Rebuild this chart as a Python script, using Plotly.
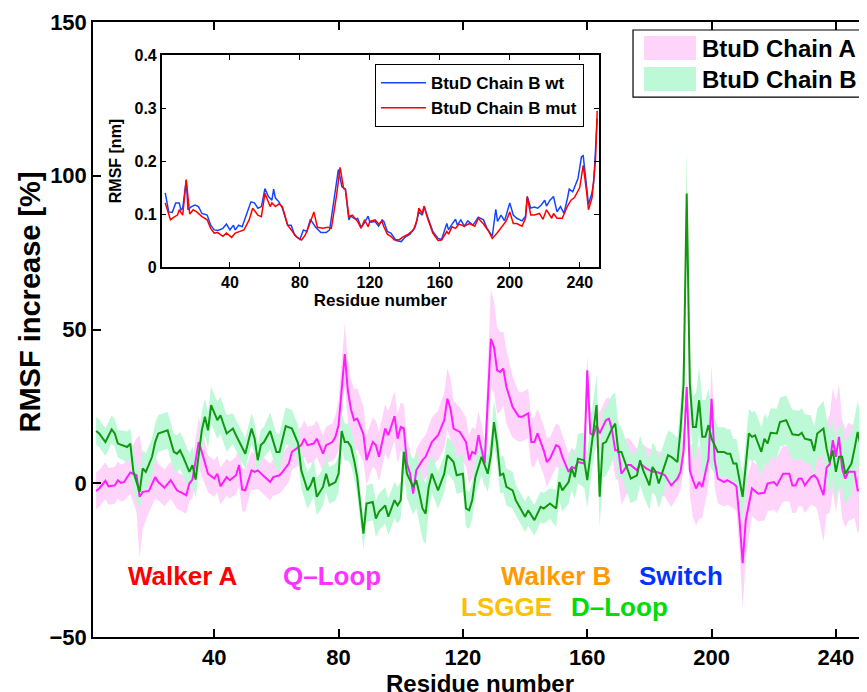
import plotly.graph_objects as go

# ---------------- main chart data (RMSF increase, %) ----------------
a_res = [2,3,5,6,8,9,10,11,13,15,
         16,17,19,21,22,24,26,28,31,32,
         33,35,36,38,40,41,42,44,45,47,
         48,49,50,52,53,54,56,58,59,61,
         62,64,65,67,68,69,70,72,73,75,
         76,78,79,80,82,83,84,85,86,88,
         89,91,92,93,95,96,98,99,100,101,
         102,103,104,105,107,108,110,112,114,115,
         116,117,119,121,122,123,124,125,126,127,
         129,130,131,132,133,134,136,137,138,139,
         141,142,143,144,146,147,148,150,151,152,
         154,155,156,157,159,160,161,162,163,164,
         166,167,168,169,170,171,173,174,176,177,
         179,181,182,184,185,187,189,190,191,192,
         193,194,195,196,197,199,200,201,202,204,
         205,207,208,209,210,211,213,215,217,218,
         220,221,223,225,226,227,228,229,230,232,
         233,234,236,237,238,239,240,241,242,243,
         244,246,247,248,249]
a_val = [-2.5,-1.7,0.8,-1,-0.7,1,0.1,0.4,3.5,2.6,
         -4.4,-2.8,-2.5,2,0.4,-1.5,1,-2.3,-3.9,-0.1,
         1.2,13.4,10.2,3.1,1.5,3.1,-1,2,1,2.6,
         5.9,-2.1,-2.3,4.2,3.7,4.2,2.3,0.4,2,2.6,
         3.7,6.4,10.2,11.8,12.4,14.5,12.4,12.9,14.5,9.6,
         12.4,13.4,15.1,18.9,42,30,24,20.5,21,16,
         7.5,13.4,12.4,8.6,17.8,15.6,21.8,14.5,18.3,17.8,
         6.4,3.1,-3.4,4.2,7.5,8.6,13.4,15.6,20.5,27.5,
         24.3,17.8,16.7,13.4,7.5,10.2,9.6,15.6,10.7,6.4,
         47,44.3,36.7,36.2,37.3,31.3,24.8,23.2,21.6,21.6,
         22.7,13.4,13.4,16.2,10.7,6.9,8,12.4,11.8,8.6,
         3.7,5.3,4.8,6.9,6.4,36.7,16.2,15.6,18.9,16.2,
         20.5,21,17.2,10.7,10.7,3.1,5.9,5.9,4.2,6.4,
         4.8,3.7,3.7,3.1,2.6,-0.7,1.5,3.7,10.7,31.3,
         4.2,1,-1.7,0.4,-1.2,8,27.5,7.5,1.5,0.4,
         1,-0.1,-1,-12,-26,-12,-1.7,-3.4,-3.1,-0.1,
         0.4,-0.7,3.1,3.1,-0.7,-0.7,1.5,1.5,-0.7,2,
         2.6,1.5,-3.9,5.1,6.2,14,8.6,15.1,4.8,1.5,
         3.7,3.7,-2.3,-2.3,-6.6]
a_err = [6,6,6,6,6,6,6,6,7,12,
         20,12,7,7,6,6,6,6,6,6,
         6,8,8,6,6,6,6,6,6,6,
         7,7,7,6,6,6,6,6,6,6,
         6,6,6,6,6,6,6,6,6,6,
         6,6,7,8,10,10,10,10,10,9,
         8,8,8,8,8,8,8,8,8,8,
         8,8,7,7,7,7,8,8,9,10,
         10,9,8,8,8,8,8,8,8,8,
         16,15,14,13,12,12,10,9,8,8,
         8,8,8,8,8,8,7,7,7,7,
         6,6,6,6,6,5,7,7,7,7,
         7,7,8,9,10,10,9,8,7,7,
         7,7,7,7,7,7,6,6,6,6,
         8,12,12,12,10,9,11,9,8,8,
         8,8,8,10,15,12,9,9,9,9,
         9,9,9,9,9,9,9,9,9,9,
         10,10,15,15,16,17,18,17,16,16,
         16,15,14,12,10]

b_res = [2,3,5,7,8,9,12,13,14,16,
         17,18,20,21,22,25,27,28,29,30,
         32,33,34,35,36,37,38,39,41,42,
         44,46,47,50,52,53,54,55,56,58,
         60,61,62,63,65,67,68,70,71,72,
         73,75,76,77,79,80,81,82,83,84,
         85,86,88,89,91,92,93,95,96,98,
         99,100,101,102,104,105,106,107,108,109,
         110,112,114,115,117,118,120,121,122,123,
         124,126,128,129,130,131,132,133,134,136,
         137,138,140,141,143,145,146,148,150,151,
         152,154,155,156,157,159,160,161,163,164,
         165,166,168,169,170,171,173,174,176,177,
         178,180,181,182,183,184,186,187,189,190,
         191,192,193,194,195,196,197,198,199,200,
         202,204,205,206,207,208,210,212,213,214,
         216,217,218,219,221,222,224,226,228,229,
         230,232,233,234,236,237,238,239,240,241,
         242,243,245,246,247,248,249]
b_val = [17,16.2,13.4,17.5,16.2,12.9,11.8,12.9,3.7,-2.8,
         4.8,3.7,8.6,13.4,16.2,17.2,10.2,9.6,10.7,8.6,
         3.7,5.9,1.2,9.6,17.2,21.6,17.2,25.4,20.5,22.1,
         16.2,17.8,15.6,9.6,17.8,14.5,7.5,12.4,13.4,17,
         10.2,10.2,14,18.6,17.8,12.9,4.2,-2.3,-0.7,2,
         -4.4,-1.2,3.1,-0.7,0.4,3.1,17,13.4,13.4,11.8,
         7.5,2,-16.4,-6.6,-6.1,-11.5,-9.3,-7.2,-10.9,-5.5,
         -7.2,-5.5,10.2,3.1,-1.2,1,-3.4,-8.2,-9.9,-1.2,
         3.1,-2.3,3.1,9.1,6.9,2.6,3.1,-8.2,-8.8,-5.5,
         2,8.6,3.1,9.1,19.9,12.9,2.6,3.1,-1.2,-2.3,
         -5.5,-7.2,-10.9,-8.8,-12,-7.7,-8.2,-6.6,-8.2,0.4,
         -2.3,0.4,4.8,2,8,7.5,1,9.1,25.4,-4.4,
         12.9,13.4,17.8,19.4,10.2,10.2,4.2,1.5,2.6,7.5,
         4.2,-0.7,5.3,3.7,-0.1,3.1,9.1,8.6,6.9,17.2,
         32.4,94.2,32.4,18.3,18.3,27,15.1,15.1,18.9,14.5,
         10.2,10.2,9.6,9.6,6.4,6.4,-4.4,16.2,15.1,15.6,
         10.2,14.5,12.9,16.4,16.2,19.9,20.5,15.9,15.6,16.4,
         14.5,14,10.5,16.2,17.8,11.3,6.9,10.7,3.7,8.6,
         8.6,3.1,6.4,11.3,16.7,11.8,-8.8]
b_err = [4.5,4.5,4.5,4.5,4.5,4.5,5,5,6,6,
         6,6,6,6,6,6,6,6,6,6,
         6,6,6,6,6,6,6,6,6,6,
         6,5,5,5,5,5,5,5,5,6,
         6,6,6,6,6,6,6,6,6,6,
         6,6,6,6,6,6,6,6,6,6,
         6,6,5,6,6,6,6,6,6,6,
         6,6,7,8,9,9,10,10,10,8,
         6,6,6,6,6,6,6,6,6,6,
         6,6,6,6,7,7,6,6,6,6,
         5,5,5,5,5,5,5,5,6,6,
         7,7,7,7,8,9,9,10,10,10,
         11,11,11,10,9,8,8,8,8,8,
         8,8,8,8,8,8,8,8,8,9,
         10,14,10,10,11,11,12,12,12,10,
         8,8,8,8,8,8,8,8,8,8,
         8,8,8,8,8,8,8,8,8,8,
         8,8,8,8,9,10,10,10,10,10,
         10,10,10,10,10,10,10]

# ---------------- inset data (RMSF, nm) ----------------
wt_res = [3,5,7,8,9,11,12,13,15,16,18,20,22,24,27,29,31,33,36,38,
          40,42,43,45,47,49,52,54,56,58,60,62,64,65,66,68,70,73,75,77,
          80,82,84,86,89,92,95,97,100,102,104,106,108,109,112,113,115,117,119,120,
          123,125,127,128,130,132,135,138,140,143,146,148,150,151,153,156,159,161,164,165,
          167,169,170,172,174,176,179,182,185,187,190,192,193,195,197,200,202,204,207,209,
          210,212,214,216,218,220,221,223,225,227,229,231,233,234,236,237,239,241,242,244,
          245,247,248,249,250]
wt_val = [0.140,0.104,0.103,0.111,0.121,0.121,0.108,0.111,0.164,0.108,0.114,0.117,0.114,0.101,0.098,0.079,0.070,0.069,0.073,0.081,
          0.070,0.079,0.070,0.079,0.076,0.095,0.123,0.121,0.111,0.114,0.148,0.133,0.126,0.147,0.130,0.123,0.111,0.079,0.079,0.060,
          0.052,0.070,0.067,0.090,0.075,0.065,0.065,0.070,0.133,0.184,0.152,0.147,0.089,0.096,0.090,0.092,0.075,0.084,0.096,0.084,
          0.086,0.077,0.089,0.086,0.067,0.064,0.050,0.048,0.056,0.062,0.076,0.104,0.098,0.114,0.095,0.067,0.054,0.052,0.082,0.070,
          0.081,0.090,0.079,0.089,0.077,0.087,0.079,0.094,0.089,0.073,0.058,0.109,0.086,0.098,0.087,0.121,0.098,0.092,0.087,0.096,
          0.133,0.111,0.113,0.111,0.117,0.126,0.115,0.126,0.133,0.104,0.114,0.101,0.130,0.147,0.142,0.150,0.167,0.208,0.210,0.150,
          0.118,0.140,0.160,0.220,0.280]
mut_res = [3,6,8,10,11,13,15,17,19,21,24,27,29,31,33,36,38,41,43,46,
           48,51,53,56,58,60,63,64,66,68,70,73,75,78,81,83,85,88,90,93,
           96,98,101,103,105,106,108,110,113,115,117,119,120,123,125,127,128,130,132,134,
           137,139,142,145,147,148,150,151,153,156,159,161,164,165,167,169,171,174,177,180,
           182,185,188,190,193,195,198,200,202,204,207,209,210,212,214,217,219,221,224,225,
           227,230,233,235,237,240,242,244,245,247,249,250]
mut_val = [0.121,0.089,0.094,0.098,0.108,0.098,0.165,0.100,0.108,0.104,0.095,0.089,0.073,0.064,0.065,0.058,0.064,0.056,0.064,0.067,
           0.070,0.089,0.111,0.098,0.095,0.139,0.114,0.121,0.114,0.119,0.114,0.079,0.071,0.057,0.051,0.060,0.076,0.104,0.075,0.073,
           0.075,0.073,0.136,0.188,0.148,0.147,0.095,0.098,0.086,0.073,0.089,0.076,0.086,0.089,0.081,0.086,0.076,0.062,0.058,0.051,
           0.052,0.057,0.062,0.070,0.089,0.111,0.101,0.115,0.092,0.064,0.050,0.051,0.067,0.062,0.076,0.073,0.081,0.077,0.082,0.077,
           0.092,0.081,0.067,0.054,0.065,0.073,0.087,0.104,0.082,0.082,0.077,0.092,0.133,0.098,0.098,0.101,0.090,0.108,0.092,0.101,
           0.092,0.092,0.115,0.126,0.131,0.150,0.192,0.140,0.108,0.130,0.200,0.295]

x_ticks = [40, 80, 120, 160, 200, 240]
y_ticks_main = [-50, 0, 50, 100, 150]
y_ticks_inset = [0, 0.1, 0.2, 0.3, 0.4]
y_ticklabels_inset = ["0", "0.1", "0.2", "0.3", "0.4"]

motifs = ["Walker A", "Q\u2013Loop", "Walker B", "Switch", "LSGGE", "D\u2013Loop"]
motif_x = [30, 78, 150, 190.2, 134, 170.3]
motif_y = [-30, -30, -30, -30, -40.3, -40.3]
motif_colors = ["#ff0000", "#ff33ff", "#ff9900", "#0033ff", "#ffc000", "#00dd00"]

chain_names = ["BtuD Chain A", "BtuD Chain B"]
band_colors = ["rgb(255,212,250)", "rgb(190,249,215)"]
line_colors = ["rgb(255,30,255)", "rgb(16,153,16)"]

for r, v, e in ((a_res, a_val, a_err), (b_res, b_val, b_err)):
    assert len(r) == len(v) == len(e)
assert len(wt_res) == len(wt_val) and len(mut_res) == len(mut_val)

FONT = "Liberation Sans"
fig = go.Figure()


def band(res, val, err):
    up = [v + e for v, e in zip(val, err)]
    lo = [v - e for v, e in zip(val, err)]
    return res + res[::-1], up + lo[::-1]


series = [(a_res, a_val, a_err), (b_res, b_val, b_err)]
for (r, v, e), nm, bc in zip(series, chain_names, band_colors):
    bx, by = band(r, v, e)
    fig.add_trace(go.Scatter(x=bx, y=by, fill="toself", fillcolor=bc,
                             line=dict(width=0), mode="lines", name=nm,
                             showlegend=False, hoverinfo="skip"))
for (r, v, e), nm, lc in zip(series, chain_names, line_colors):
    fig.add_trace(go.Scatter(x=r, y=v, mode="lines", name=nm,
                             line=dict(color=lc, width=2), showlegend=False))

# inset
fig.add_trace(go.Scatter(x=wt_res, y=wt_val, mode="lines", xaxis="x2", yaxis="y2",
                         line=dict(color="rgb(20,70,255)", width=1.5),
                         name="BtuD Chain B wt", legend="legend2"))
fig.add_trace(go.Scatter(x=mut_res, y=mut_val, mode="lines", xaxis="x2", yaxis="y2",
                         line=dict(color="rgb(255,0,0)", width=1.5),
                         name="BtuD Chain B mut", legend="legend2"))

for t, x, y, c in zip(motifs, motif_x, motif_y, motif_colors):
    fig.add_annotation(x=x, y=y, xref="x", yref="y", text=t, showarrow=False,
                       font=dict(family=FONT, size=26, color=c, weight="bold"))

# main y-axis label (larger, placed as in the reference)
fig.add_annotation(x=-0.0814, y=0.5455, xref="paper", yref="paper",
                   text="RMSF increase [%]", textangle=-90, showarrow=False,
                   xanchor="center", yanchor="middle",
                   font=dict(family=FONT, size=29, color="black", weight="bold"))

# main legend (patch-style, as in the reference)
fig.add_shape(type="rect", xref="paper", yref="paper", x0=0.6977, x1=1.002,
              y0=0.878, y1=0.987, line=dict(color="black", width=1.2),
              fillcolor="white", layer="above")
patch_y = [(0.9382, 0.9772), (0.8878, 0.9268)]
text_y = [0.9577, 0.9073]
for (y0, y1), ty, nm, bc in zip(patch_y, text_y, chain_names, band_colors):
    fig.add_shape(type="rect", xref="paper", yref="paper", x0=0.7119, x1=0.7791,
                  y0=y0, y1=y1, line=dict(width=0), fillcolor=bc, layer="above")
    fig.add_annotation(x=0.7842, y=ty, xref="paper", yref="paper", text=nm,
                       showarrow=False, xanchor="left", yanchor="middle",
                       font=dict(family=FONT, size=24, color="black", weight="bold"))

axis_common = dict(showline=True, linecolor="black", linewidth=1.5, mirror="ticks",
                   ticks="inside", tickcolor="black", showgrid=False, zeroline=False,
                   automargin=False)

# the page body adds an 8px offset, margins compensate for it
fig.update_layout(
    width=867, height=692,
    margin=dict(l=85, r=8, t=14, b=63),
    paper_bgcolor="white", plot_bgcolor="white",
    font=dict(family=FONT, color="black"),
    xaxis=dict(range=[1, 250], tickvals=x_ticks, ticklen=8, tickwidth=1.5,
               tickfont=dict(size=22, weight="bold"),
               title=dict(text="Residue number", font=dict(size=24, weight="bold"), standoff=4),
               **axis_common),
    yaxis=dict(range=[-50, 150], tickvals=y_ticks_main, ticklen=8, tickwidth=1.5,
               tickfont=dict(size=22, weight="bold"),
               **axis_common),
    xaxis2=dict(domain=[0.0888, 0.6537], anchor="y2", range=[1, 251], tickvals=x_ticks,
                ticklen=5, tickwidth=1, tickfont=dict(size=16, weight="bold"),
                title=dict(text="Residue number", font=dict(size=17, weight="bold"), standoff=0),
                **axis_common),
    yaxis2=dict(domain=[0.6016, 0.9463], anchor="x2", range=[0, 0.4], tickvals=y_ticks_inset,
                ticktext=y_ticklabels_inset, ticklen=5, tickwidth=1,
                tickfont=dict(size=16, weight="bold"),
                title=dict(text="RMSF [nm]", font=dict(size=16, weight="bold"), standoff=9),
                **axis_common),
    legend2=dict(x=0.634, xanchor="right", y=0.9317, yanchor="top", bgcolor="white",
                 bordercolor="black", borderwidth=1.2,
                 font=dict(size=17, weight="bold"), tracegroupgap=0, itemwidth=45),
    showlegend=True,
)

fig.write_html("out.html")
